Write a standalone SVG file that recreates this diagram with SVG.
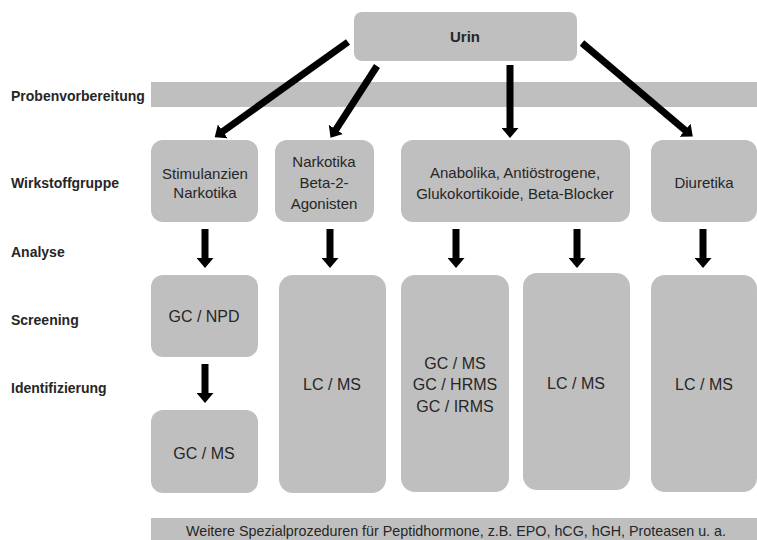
<svg xmlns="http://www.w3.org/2000/svg" width="757" height="540" viewBox="0 0 757 540">
<style>
.box{fill:#bfbfbf;}
.t{font-family:"Liberation Sans",Arial,sans-serif;font-size:15px;fill:#262626;text-anchor:middle;dominant-baseline:central;}
.m{font-size:16px;}
.lbl{font-family:"Liberation Sans",Arial,sans-serif;font-size:14px;font-weight:bold;fill:#262626;dominant-baseline:central;}
.arr{stroke:#000;stroke-width:7;fill:none;marker-end:url(#ah);}
</style>
<defs>
<marker id="ah" markerUnits="userSpaceOnUse" markerWidth="10" markerHeight="17" refX="1" refY="8.5" orient="auto">
<path d="M0,0 L10,8.5 L0,17 z" fill="#000"/>
</marker>
</defs>
<rect width="757" height="540" fill="#fff"/>
<g id="bands">
<rect class="box" x="151" y="82" width="606" height="25"/>
<rect class="box" x="151" y="518" width="606" height="22"/>
<text class="t" x="456" y="530" font-size="13.5" textLength="540" lengthAdjust="spacingAndGlyphs">Weitere Spezialprozeduren für Peptidhormone, z.B. EPO, hCG, hGH, Proteasen u. a.</text>
</g>
<g id="labels">
<text class="lbl" x="11" y="96">Probenvorbereitung</text>
<text class="lbl" x="11" y="183">Wirkstoffgruppe</text>
<text class="lbl" x="11" y="252" font-size="15.5">Analyse</text>
<text class="lbl" x="11" y="320">Screening</text>
<text class="lbl" x="11" y="388">Identifizierung</text>
</g>
<g id="urin"><rect class="box" x="354" y="12" width="223" height="49" rx="8"/><text class="t" x="465" y="36" font-weight="bold">Urin</text></g>
<g id="stimulanzien"><rect class="box" x="151" y="140" width="107" height="82" rx="12"/><text class="t" x="205" y="173">Stimulanzien</text><text class="t" x="205" y="192">Narkotika</text></g>
<g id="narkotika"><rect class="box" x="275" y="140" width="99" height="82" rx="12"/><text class="t" x="324" y="161">Narkotika</text><text class="t" x="324" y="182">Beta-2-</text><text class="t" x="324" y="203">Agonisten</text></g>
<g id="anabolika"><rect class="box" x="401" y="140" width="229" height="82" rx="12"/><text class="t" x="515" y="172">Anabolika, Antiöstrogene,</text><text class="t" x="515" y="193">Glukokortikoide, Beta-Blocker</text></g>
<g id="diuretika"><rect class="box" x="651" y="140" width="106" height="82" rx="12"/><text class="t" x="704" y="182">Diuretika</text></g>
<g id="gcnpd"><rect class="box" x="151" y="275" width="107" height="82" rx="12"/><text class="t m" x="204" y="316">GC / NPD</text></g>
<g id="gcms1"><rect class="box" x="151" y="410" width="107" height="83" rx="12"/><text class="t m" x="204" y="453">GC / MS</text></g>
<g id="lcms1"><rect class="box" x="279" y="275" width="107" height="218" rx="14"/><text class="t m" x="332" y="384">LC / MS</text></g>
<g id="gcms2"><rect class="box" x="401" y="275" width="108" height="217" rx="14"/><text class="t m" x="455" y="363">GC / MS</text><text class="t m" x="455" y="384">GC / HRMS</text><text class="t m" x="455" y="406">GC / IRMS</text></g>
<g id="lcms2"><rect class="box" x="523" y="273" width="107" height="217" rx="14"/><text class="t m" x="576" y="383">LC / MS</text></g>
<g id="lcms3"><rect class="box" x="651" y="275" width="106" height="217" rx="14"/><text class="t m" x="704" y="384">LC / MS</text></g>
<g id="connectors">
<line class="arr" x1="348" y1="42" x2="222" y2="132"/>
<line class="arr" x1="377" y1="66" x2="335.4" y2="130.3"/>
<line class="arr" x1="510" y1="65" x2="510" y2="129"/>
<line class="arr" x1="582" y1="43" x2="685.9" y2="130.8"/>
<line class="arr" x1="205" y1="229" x2="205" y2="259"/>
<line class="arr" x1="330" y1="229" x2="330" y2="259"/>
<line class="arr" x1="456" y1="229" x2="456" y2="259"/>
<line class="arr" x1="577" y1="229" x2="577" y2="259"/>
<line class="arr" x1="703" y1="229" x2="703" y2="259"/>
<line class="arr" x1="205" y1="364" x2="205" y2="394"/>
</g>
</svg>
